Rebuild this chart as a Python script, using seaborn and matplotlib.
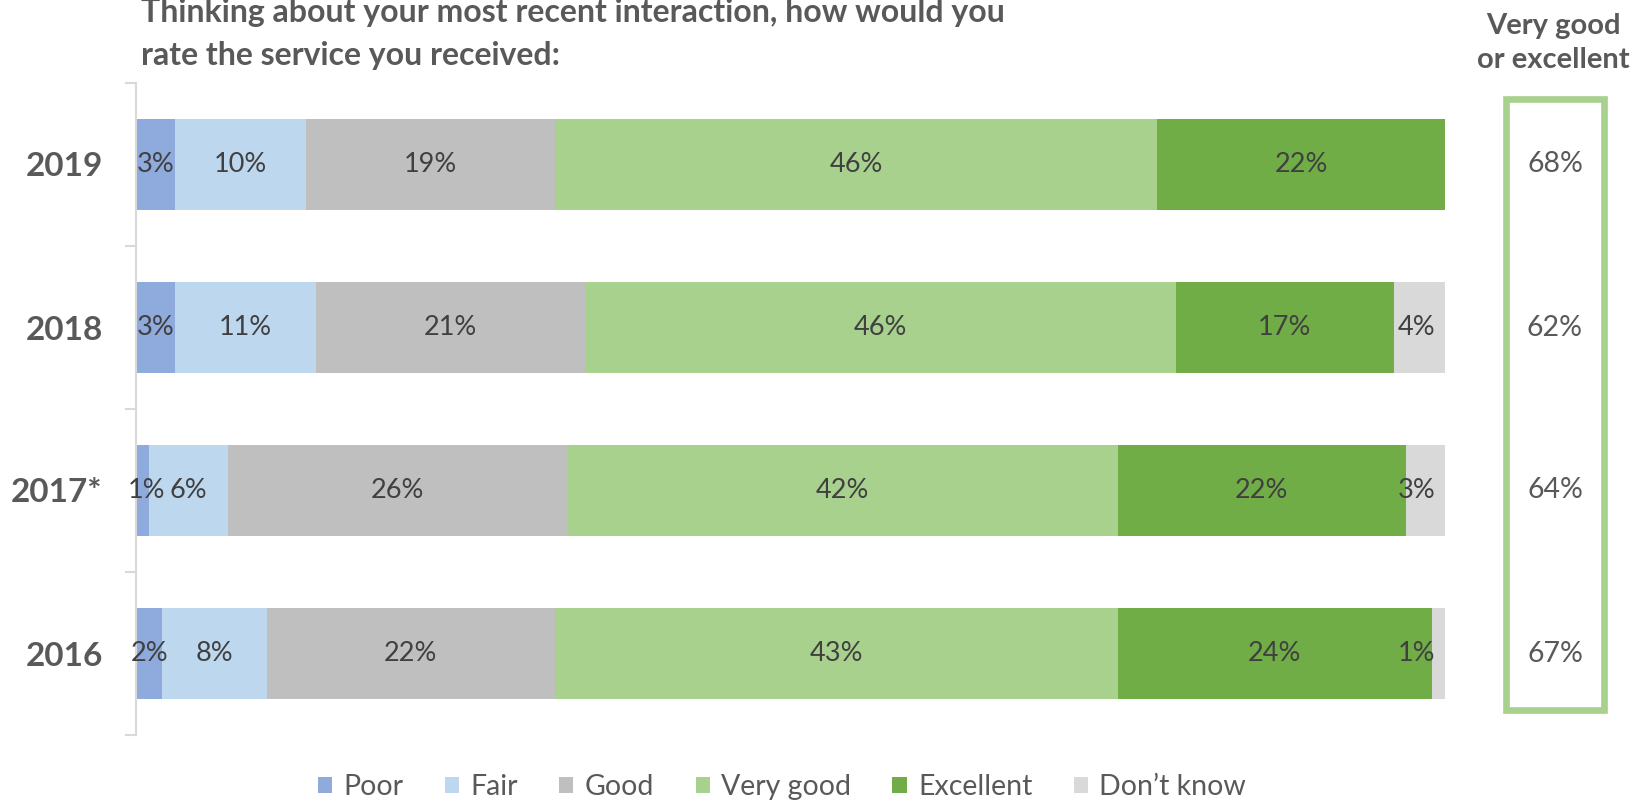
import matplotlib
matplotlib.use("Agg")
import matplotlib.pyplot as plt
from matplotlib.patches import Patch, Rectangle
import numpy as np
import pandas as pd
import seaborn as sns

# Survey results (percent of respondents)
years = ["2019", "2018", "2017*", "2016"]
ratings = ["Poor", "Fair", "Good", "Very good", "Excellent", "Don\u2019t know"]
poor = [3, 3, 1, 2]
fair = [10, 11, 6, 8]
good = [19, 21, 26, 22]
very_good = [46, 46, 42, 43]
excellent = [22, 17, 22, 24]
dont_know = [0, 4, 3, 1]
top_two = [68, 62, 64, 67]

colors = ["#8FAADC", "#BDD7EE", "#BFBFBF", "#A9D18E", "#70AD47", "#D9D9D9"]
text_grey = "#595959"
label_grey = "#404040"

sns.set_theme(style="white")
plt.rcParams["font.family"] = ["Lato", "DejaVu Sans"]

series = [poor, fair, good, very_good, excellent, dont_know]
raw = np.array(series, dtype=float).T            # rows = years
share = raw / raw.sum(axis=1, keepdims=True) * 100  # 100% stacked
cum = np.cumsum(share, axis=1)

fig = plt.figure(figsize=(16.36, 8.01), dpi=100)
ax = fig.add_axes([136 / 1636, 1 - 735 / 801, (1445 - 136) / 1636, (735 - 83) / 801])

# Draw cumulative bars from the widest to the narrowest so each segment shows
for k in range(len(ratings) - 1, -1, -1):
    df = pd.DataFrame({"year": years, "value": cum[:, k]})
    sns.barplot(data=df, y="year", x="value", order=years, orient="h",
                color=colors[k], saturation=1, width=0.56, linewidth=0, ax=ax)

# Segment labels
for i in range(len(years)):
    for k in range(len(ratings)):
        v = raw[i, k]
        if v <= 0:
            continue
        left = cum[i, k] - share[i, k]
        x = left + share[i, k] / 2
        x = min(max(x, 0.8), 97.8)
        ax.text(x, i, f"{int(v)}%", ha="center", va="center",
                fontsize=19.5, color=label_grey)

ax.set_xlim(0, 100)
ax.set_ylim(len(years) - 0.5, -0.5)
ax.set_xlabel("")
ax.set_ylabel("")
ax.set_xticks([])
for s in ["top", "right", "bottom"]:
    ax.spines[s].set_visible(False)
ax.spines["left"].set_color("#D9D9D9")
ax.spines["left"].set_linewidth(1.5)
ax.set_yticks(range(len(years)))
ax.set_yticklabels(years, fontsize=24, fontweight="bold", color=text_grey)
ax.tick_params(axis="y", which="major", length=0, pad=24)
ax.set_yticks(np.arange(-0.5, len(years)), minor=True)
ax.tick_params(axis="y", which="minor", length=8, width=1.5, color="#D9D9D9", left=True)

# Title
fig.text(141 / 1636, 1 - 34 / 801,
         "Thinking about your most recent interaction, how would you\nrate the service you received:",
         ha="left", va="center", fontsize=23, fontweight="bold", color=text_grey,
         linespacing=1.6)

# Summary column: very good or excellent
fig.text(1553 / 1636, 1 - 43 / 801, "Very good\nor excellent", ha="center", va="center",
         fontsize=21, fontweight="bold", color=text_grey, linespacing=1.35)
box = Rectangle((1506 / 1636, 1 - 710 / 801), (1604 - 1506) / 1636, (710 - 99) / 801,
                transform=fig.transFigure, fill=False, edgecolor="#A9D18E", linewidth=4.8)
fig.add_artist(box)
for i, v in enumerate(top_two):
    y_disp = ax.transData.transform((0, i))[1]
    y_fig = fig.transFigure.inverted().transform((0, y_disp))[1]
    fig.text(1555 / 1636, y_fig, f"{v}%", ha="center", va="center",
             fontsize=20.5, color=text_grey)

# Legend
handles = [Patch(facecolor=c, edgecolor="none", label=r) for c, r in zip(colors, ratings)]
fig.legend(handles=handles, loc="center", bbox_to_anchor=(782 / 1636, 1 - 787 / 801),
           ncol=6, frameon=False, fontsize=20.5, handlelength=0.5, handleheight=0.5,
           handletextpad=0.4, columnspacing=1.45, labelcolor=text_grey)

fig.savefig("out.png", dpi=100)
